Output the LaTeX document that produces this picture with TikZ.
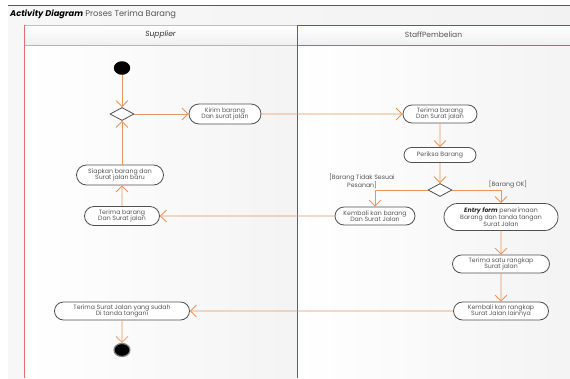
\documentclass[tikz,border=0pt]{standalone}
\usepackage{fontspec}
\setmainfont{Poppins}
\usetikzlibrary{shapes.misc,shapes.geometric,arrows.meta,positioning}
\definecolor{lineC}{RGB}{232,150,92}
\definecolor{borderC}{RGB}{80,80,80}
\definecolor{txtC}{RGB}{85,85,85}
\definecolor{redC}{RGB}{215,45,45}
\definecolor{redL}{RGB}{228,110,110}
\definecolor{tanC}{RGB}{222,170,130}
\begin{document}
\begin{tikzpicture}[x=1pt,y=-1pt,
  act/.style={rounded rectangle, draw=borderC, line width=0.8pt, fill=white,
    font=\fontsize{6.2}{6.6}\selectfont, text=txtC, align=center, inner sep=0pt},
  dec/.style={diamond, draw=borderC, line width=0.8pt, fill=white, inner sep=0pt,
    minimum width=24pt, minimum height=13pt},
  flow/.style={draw=lineC, line width=0.8pt, -{Straight Barb[length=6pt,width=12pt,line width=0.8pt]}},
  guard/.style={font=\fontsize{6.2}{6.6}\selectfont, text=txtC, align=center, inner sep=0pt}
]
\useasboundingbox (0,0) rectangle (570,378);
\fill[white] (0,0) rectangle (570,378);
% background
\shade[left color=gray!6, right color=gray!10] (8,5) rectangle (570,378);
\shade[left color=white, right color=gray!9] (24,45) rectangle (297,378);
\shade[left color=white, right color=gray!9] (297,45) rectangle (570,378);
\draw[gray!70!black, line width=0.8pt] (8,5) -- (570,5);
\node[anchor=west, inner sep=0pt, font=\fontsize{8.3}{10}\selectfont] (title) at (10,14.5)
  {\textbf{\textit{Activity Diagram}} \textcolor{txtC}{Proses Terima Barang}};
% headers
\shade[top color=white, bottom color=gray!12] (24,25) rectangle (297,45);
\shade[top color=white, bottom color=gray!12] (297,25) rectangle (570,45);
\draw[gray!50, line width=0.6pt] (24,25) -- (297,25);
\draw[tanC, line width=1pt] (24,45) -- (297,45);
\draw[redC, line width=0.7pt] (297,25) -- (570,25);
\draw[redC!80, line width=1pt] (297,45) -- (570,45);
\draw[redL, line width=1pt] (24,25) -- (24,378);
\draw[redC, line width=0.8pt] (297,25) -- (297,378);
\node[font=\fontsize{7.5}{8}\selectfont\itshape, text=black!80] (hsup) at (160.5,35) {Supplier};
\node[font=\fontsize{7.5}{8}\selectfont, text=txtC] (hstaff) at (433.5,35) {StaffPembelian};
% nodes
\node[ellipse, fill=black, draw=black, minimum width=16pt, minimum height=13pt, inner sep=0pt] (start) at (122,68) {};
\node[dec] (d1) at (122,114) {};
\node[act, minimum width=72pt, minimum height=20pt] (kirim) at (225,114) {Kirim barang\\Dan surat jalan};
\node[act, minimum width=74pt, minimum height=18pt] (terimaS) at (440,114) {Terima barang\\Dan Surat jalan};
\node[act, minimum width=72pt, minimum height=15pt] (periksa) at (440,155) {Periksa Barang};
\node[dec] (d2) at (440,190) {};
\node[act, minimum width=80pt, minimum height=18pt] (kembB) at (375,216) {Kembali kan barang\\Dan Surat Jalan};
\node[act, minimum width=114pt, minimum height=27pt] (entry) at (501,217) {\textbf{\textit{\textcolor{black!85}{Entry form}}} penerimaan\\Barang dan tanda tangan\\Surat Jalan};
\node[act, minimum width=97pt, minimum height=18pt] (satu) at (501,264) {Terima satu rangkap\\Surat jalan};
\node[act, minimum width=95pt, minimum height=18pt] (kembR) at (501,311) {Kembali kan rangkap\\Surat Jalan lainnya};
\node[act, minimum width=135pt, minimum height=18pt] (terimaSJ) at (122,311) {Terima Surat Jalan yang sudah\\Di tanda tangani};
\node[act, minimum width=87pt, minimum height=20pt] (siapkan) at (120,175) {Siapkan barang dan\\Surat jalan baru};
\node[act, minimum width=75pt, minimum height=19pt] (terimaSup) at (122,216) {Terima barang\\Dan Surat jalan};
\node[ellipse, fill=black, draw=gray, line width=1.2pt, minimum width=16pt, minimum height=13pt, inner sep=0pt] (end) at (122,350) {};
% guards
\node[guard] (g1) at (362,181) {[Barang Tidak Sesuai\\Pesanan]};
\node[guard] (g2) at (508,184) {[Barang OK]};
% edges
\draw[flow] (start) -- (d1);
\draw[flow] (d1) -- (kirim);
\draw[flow] (kirim) -- (terimaS);
\draw[flow] (terimaS) -- (periksa);
\draw[flow] (periksa) -- (d2);
\draw[flow] (d2.west) -| (kembB.north);
\draw[flow] (d2.east) -| (entry.north);
\draw[flow] (kembB) -- (terimaSup);
\draw[flow] (terimaSup) -- (terimaSup|-siapkan.south);
\draw[flow] (siapkan.north-|d1) -- (d1);
\draw[flow] (entry) -- (satu);
\draw[flow] (satu) -- (kembR);
\draw[flow] (kembR) -- (terimaSJ);
\draw[flow] (terimaSJ) -- (end);
\end{tikzpicture}
\end{document}
